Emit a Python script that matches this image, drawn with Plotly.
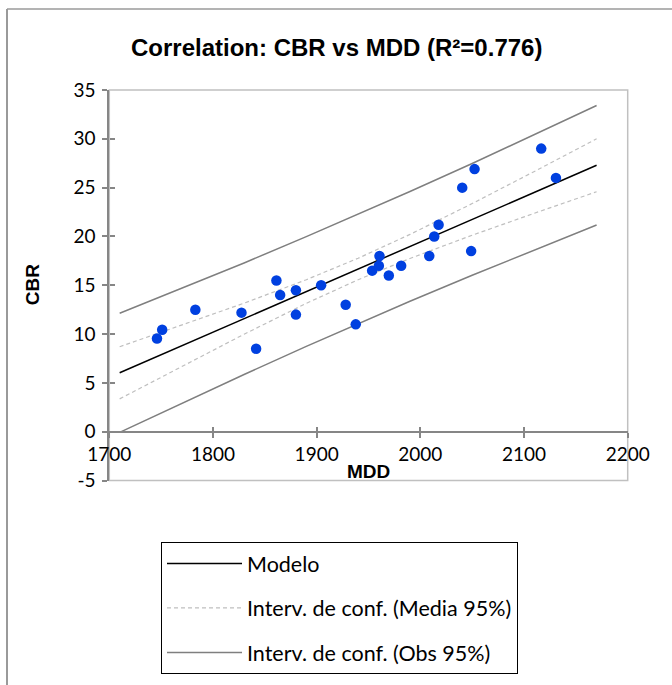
import plotly.graph_objects as go

# ---- data ----
mdd = [1746, 1751, 1783, 1827.5, 1841.6, 1861.2, 1864.8, 1880, 1880, 1904.3,
       1928, 1937.7, 1953.5, 1960, 1960.6, 1969.6, 1981.5, 2008.6, 2013.4, 2017.6,
       2040.4, 2049, 2052.3, 2116.6, 2130.8]
cbr = [9.55, 10.45, 12.5, 12.2, 8.5, 15.5, 14.0, 14.5, 12.0, 15.0,
       13.0, 11.0, 16.5, 17.0, 18.0, 16.0, 17.0, 18.0, 20.0, 21.2,
       25.0, 18.5, 26.9, 29.0, 26.0]

band_x = [1710, 1770, 1830, 1890, 1940, 1990, 2050, 2110, 2170]
model_y = [6.04, 8.81, 11.58, 14.36, 16.67, 18.98, 21.75, 24.52, 27.29]
mean_up = [8.71, 10.91, 13.17, 15.57, 17.77, 20.21, 23.37, 26.66, 30.00]
mean_lo = [3.37, 6.71, 9.99, 13.15, 15.57, 17.75, 20.13, 22.38, 24.58]
obs_up = [12.14, 14.69, 17.29, 19.98, 22.26, 24.60, 27.47, 30.41, 33.41]
obs_lo = [-0.06, 2.93, 5.87, 8.74, 11.08, 13.36, 16.03, 18.63, 21.17]

x_ticks = [1700, 1800, 1900, 2000, 2100, 2200]
y_ticks = [-5, 0, 5, 10, 15, 20, 25, 30, 35]
y_tick_text = ["-5", "0", "5", "10", "15", "20", "25", "30", "35"]

title_text = "Correlation: CBR vs MDD (R²=0.776)"
x_title = "MDD"
y_title = "CBR"
legend_names = ["Modelo", "Interv. de conf. (Media 95%)", "Interv. de conf. (Obs 95%)"]

# ---- layout geometry (pixels of a 672x685 canvas) ----
W, H = 672, 685
px_x0, px_x1 = 109.3, 627.7
px_y_top, px_y_bot = 90.0, 480.6
xdom = [px_x0 / W, px_x1 / W]
ydom = [(H - px_y_bot) / H, (H - px_y_top) / H]
yr = [-5, 35]
xaxis_pos = ydom[0] + (0 - yr[0]) / (yr[1] - yr[0]) * (ydom[1] - ydom[0])

AX = "#868686"
tick_font = dict(family="Lato, Open Sans, sans-serif", size=19, color="#000")

fig = go.Figure()

fig.add_trace(go.Scatter(
    x=band_x, y=model_y, mode="lines", name=legend_names[0],
    line=dict(color="#000000", width=1.5), legendgroup="g1"))
fig.add_trace(go.Scatter(
    x=band_x + [None] + band_x, y=mean_up + [None] + mean_lo, mode="lines",
    name=legend_names[1], line=dict(color="#bfbfbf", width=1.2, dash="4px,3px"),
    legendgroup="g2", connectgaps=False))
fig.add_trace(go.Scatter(
    x=band_x + [None] + band_x, y=obs_up + [None] + obs_lo, mode="lines",
    name=legend_names[2], line=dict(color="#7f7f7f", width=1.5),
    legendgroup="g3", connectgaps=False))
fig.add_trace(go.Scatter(
    x=mdd, y=cbr, mode="markers", showlegend=False,
    marker=dict(color="#0040E0", size=10.5, line=dict(width=0))))
# helper trace for the inner half of the crossing ticks
fig.add_trace(go.Scatter(x=[None], y=[None], xaxis="x2", yaxis="y2",
                         showlegend=False, hoverinfo="skip"))

fig.update_layout(
    width=W, height=H, autosize=False,
    margin=dict(l=0, r=0, t=0, b=0, pad=0),
    paper_bgcolor="white", plot_bgcolor="white",
    showlegend=True,
    xaxis=dict(domain=xdom, range=[1700, 2200], tickvals=x_ticks,
               anchor="free", position=xaxis_pos, automargin=False,
               showgrid=False, zeroline=False, showline=True, linecolor=AX, linewidth=1.8,
               ticks="outside", ticklen=5, tickwidth=1.5, tickcolor=AX,
               tickfont=tick_font, ticklabelstandoff=1),
    yaxis=dict(domain=ydom, range=yr, tickvals=y_ticks, ticktext=y_tick_text,
               automargin=False,
               showgrid=False, zeroline=False, showline=True, linecolor=AX, linewidth=1.8,
               ticks="outside", ticklen=5, tickwidth=1.5, tickcolor=AX,
               tickfont=tick_font, ticklabelstandoff=3),
    xaxis2=dict(overlaying="x", matches="x", anchor="free", position=xaxis_pos,
                automargin=False,
                tickvals=x_ticks, showticklabels=False, showgrid=False, zeroline=False,
                showline=False, ticks="inside", ticklen=5, tickwidth=1.5, tickcolor=AX),
    yaxis2=dict(overlaying="y", matches="y", anchor="free", position=xdom[0],
                automargin=False,
                tickvals=y_ticks, showticklabels=False, showgrid=False, zeroline=False,
                showline=False, ticks="inside", ticklen=5, tickwidth=1.5, tickcolor=AX),
    legend=dict(x=161 / W, y=(H - 542) / H, xanchor="left", yanchor="top",
                bordercolor="#000", borderwidth=1, bgcolor="white",
                font=dict(family="Lato, Open Sans, sans-serif", size=21.5, color="#000"),
                traceorder="grouped", tracegroupgap=13.5, itemwidth=75),
    shapes=[
        # plot-area border (light gray)
        dict(type="rect", xref="x domain", yref="y domain", x0=0, x1=1, y0=0, y1=1,
             line=dict(color="#c0c0c0", width=1.5), layer="below"),
        # outer chart frame (left and top edges)
        dict(type="line", xref="paper", yref="paper", x0=7 / W, x1=7 / W, y0=0, y1=(H - 9) / H,
             line=dict(color="#9a9a9a", width=2)),
        dict(type="line", xref="paper", yref="paper", x0=7 / W, x1=1, y0=(H - 9) / H, y1=(H - 9) / H,
             line=dict(color="#9a9a9a", width=1.5)),
    ],
    annotations=[
        dict(text="<b>" + title_text + "</b>", xref="paper", yref="paper",
             x=0.5, y=(H - 47) / H, xanchor="center", yanchor="middle", showarrow=False,
             font=dict(family="Liberation Sans, Arial, sans-serif", size=24, color="#000")),
        dict(text="<b>" + x_title + "</b>", xref="paper", yref="paper",
             x=(xdom[0] + xdom[1]) / 2, y=(H - 471) / H, xanchor="center", yanchor="middle",
             showarrow=False,
             font=dict(family="Liberation Sans, Arial, sans-serif", size=19, color="#000")),
        dict(text="<b>" + y_title + "</b>", xref="paper", yref="paper",
             x=32 / W, y=(ydom[0] + ydom[1]) / 2, xanchor="center", yanchor="middle",
             showarrow=False, textangle=-90,
             font=dict(family="Liberation Sans, Arial, sans-serif", size=19, color="#000")),
    ],
)

fig.write_html("out.html")
